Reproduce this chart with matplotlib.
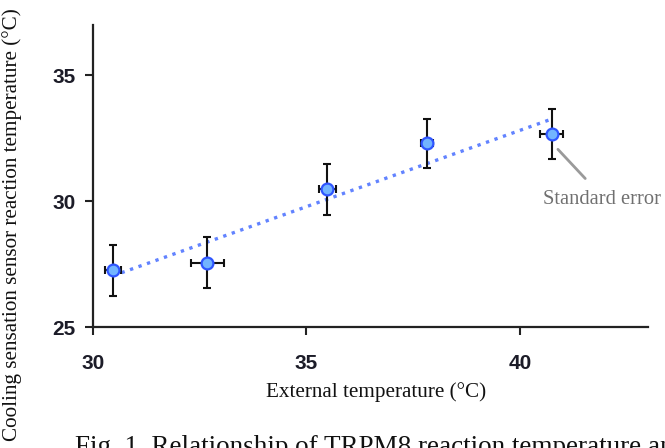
import numpy as np
import matplotlib
matplotlib.use("Agg")
import matplotlib.pyplot as plt

# values
ext_temp = [30.47, 32.68, 35.49, 37.83, 40.74]
react_temp = [27.25, 27.56, 30.47, 32.30, 32.67]
x_err = [0.18, 0.38, 0.20, 0.14, 0.28]
y_err = [1.0, 1.0, 1.0, 0.98, 0.98]
x_ticks = [30, 35, 40]
y_ticks = [25, 30, 35]

serif = ["Liberation Serif", "DejaVu Serif"]
narrow = ["Liberation Sans Narrow", "Liberation Sans", "DejaVu Sans"]

fig = plt.figure(figsize=(6.65, 4.48), dpi=100)
ax = fig.add_axes([93 / 665, 121 / 448, 555 / 665, 302 / 448])

# regression line between the lowest and highest external temperature
slope, icpt = np.polyfit(ext_temp, react_temp, 1)
xs = np.array([min(ext_temp), max(ext_temp)])
ax.plot(xs, slope * xs + icpt, color="#6283ff", lw=2.4, ls=(0, (1, 1.7)), zorder=1)

ax.errorbar(ext_temp, react_temp, xerr=x_err, yerr=y_err, fmt="none",
            ecolor="#111111", elinewidth=1.5, capsize=3, capthick=1.5, zorder=2)
ax.plot(ext_temp, react_temp, "o", ms=8.5, mfc="#72b4ff", mec="#2f55ff",
        mew=1.6, zorder=3)

ax.set_xlim(30, 43)
ax.set_ylim(25, 37)
ax.set_xticks(x_ticks)
ax.set_yticks(y_ticks)
for s in ["top", "right"]:
    ax.spines[s].set_visible(False)
for s in ["left", "bottom"]:
    ax.spines[s].set_color("#222222")
    ax.spines[s].set_linewidth(1.6)
ax.tick_params(axis="both", direction="out", length=5.5, width=1.5, color="#222222")
ax.tick_params(axis="x", pad=14)
ax.tick_params(axis="y", pad=7)
for lab in ax.get_xticklabels() + ax.get_yticklabels():
    lab.set_family(narrow)
    lab.set_fontweight("bold")
    lab.set_fontsize(15)
    lab.set_color("#1c1c28")

# standard error callout
ax.annotate("", xy=(40.89, 32.06), xytext=(41.53, 30.90),
            arrowprops=dict(arrowstyle="-", color="#9a9a9a", lw=2,
                            shrinkA=0, shrinkB=0))
ax.text(40.55, 30.08, "Standard error", family=serif, fontsize=14.8,
        color="#707070", va="center", ha="left")

fig.text(376 / 665, 1 - 392 / 448, "External temperature (\u00b0C)", family=serif,
         fontsize=15.2, ha="center", va="center", color="#111111")
fig.text(12 / 665, 1 - 225 / 448,
         "Cooling sensation sensor reaction temperature (\u00b0C)", family=serif,
         fontsize=15.2, rotation=90, ha="center", va="center", color="#111111")
fig.text(75 / 665, -6 / 448,
         "Fig. 1. Relationship of TRPM8 reaction temperature and external temperature",
         family=serif, fontsize=19.5, ha="left", va="baseline", color="#111111")

fig.savefig("out.png", dpi=100)
